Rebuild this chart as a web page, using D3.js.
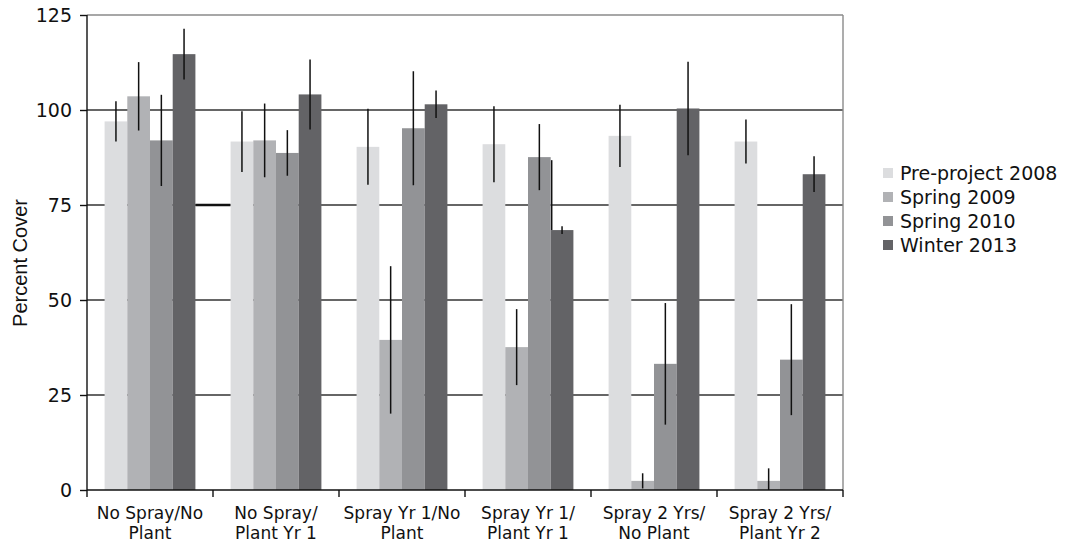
<!DOCTYPE html>
<html>
    <head>
        <meta charset="utf-8">
        <title>Percent Cover</title>
        <script src="https://cdn.jsdelivr.net/npm/d3@7"></script>
        <style>
            body { margin: 0; background: #fff; }
            text { fill: #111; }
            .tick text { font-family: "DejaVu Sans", Verdana, sans-serif; }
        </style>
    </head>
    <body>
        <div id="chart"></div>
        <script>
            var width = 1070, height = 543;
            var margin = {top: 15, right: 227, bottom: 53, left: 87};

            // treatments along the x axis
            const categories = ["No Spray/No Plant", "No Spray/Plant Yr 1", "Spray Yr 1/No Plant",
                "Spray Yr 1/Plant Yr 1", "Spray 2 Yrs/No Plant", "Spray 2 Yrs/Plant Yr 2"];
            const labelLines = [["No Spray/No", "Plant"], ["No Spray/", "Plant Yr 1"], ["Spray Yr 1/No", "Plant"],
                ["Spray Yr 1/", "Plant Yr 1"], ["Spray 2 Yrs/", "No Plant"], ["Spray 2 Yrs/", "Plant Yr 2"]];
            const series = ["Pre-project 2008", "Spring 2009", "Spring 2010", "Winter 2013"];
            const colors = ["#dcdddf", "#b1b2b5", "#929396", "#636366"];

            // mean percent cover, one array per series
            const pre2008 = [97, 91.7, 90.3, 91, 93.2, 91.7];
            const spring2009 = [103.6, 92, 39.5, 37.6, 2.4, 2.4];
            const spring2010 = [92, 88.7, 95.2, 87.6, 33.2, 34.3];
            const winter2013 = [114.7, 104.1, 101.5, 68.4, 100.4, 83.1];

            // error bar half-widths
            const pre2008Err = [5.3, 8, 10, 10, 8.2, 5.8];
            const spring2009Err = [9, 9.7, 19.4, 10, 2, 3.3];
            const spring2010Err = [12, 6, 15, 8.7, 16, 14.6];
            const winter2013Err = [6.7, 9.2, 3.6, 1, 12.3, 4.7];

            const yTicks = [0, 25, 50, 75, 100, 125];

            var means = [pre2008, spring2009, spring2010, winter2013];
            var errs = [pre2008Err, spring2009Err, spring2010Err, winter2013Err];

            var rows = [];
            series.forEach(function (s, i) {
                categories.forEach(function (c, j) {
                    rows.push({cat: c, series: s, si: i, value: means[i][j], err: errs[i][j]});
                });
            });

            var svg = d3.select("#chart")
                .append("svg")
                .attr("width", width)
                .attr("height", height);

            var x0 = d3.scaleBand()
                .domain(categories)
                .range([margin.left, width - margin.right])
                .padding(0);

            var x1 = d3.scaleBand()
                .domain(series)
                .range([0, x0.bandwidth()])
                .paddingInner(0)
                .paddingOuter(0.775);

            var y = d3.scaleLinear()
                .domain([0, 125])
                .range([height - margin.bottom, margin.top]);

            // gridlines
            svg.append("g")
                .selectAll("line")
                .data(yTicks.filter(function (d) { return d > 0; }))
                .enter()
                .append("line")
                .attr("x1", margin.left)
                .attr("x2", width - margin.right)
                .attr("y1", function (d) { return y(d); })
                .attr("y2", function (d) { return y(d); })
                .attr("stroke", function (d) { return d === 125 ? "#8a8a8a" : "#333"; })
                .attr("stroke-width", 1.4);

            // right border
            svg.append("line")
                .attr("x1", width - margin.right)
                .attr("x2", width - margin.right)
                .attr("y1", y(125))
                .attr("y2", y(0))
                .attr("stroke", "#8a8a8a")
                .attr("stroke-width", 1.4);

            // the thick stray segment on the 75 line
            svg.append("line")
                .attr("x1", x0(categories[0]) + x1(series[3]) + x1.bandwidth())
                .attr("x2", x0(categories[1]) + x1(series[0]))
                .attr("y1", y(75))
                .attr("y2", y(75))
                .attr("stroke", "#111")
                .attr("stroke-width", 2.6);

            // bars
            svg.append("g")
                .selectAll("rect")
                .data(rows)
                .enter()
                .append("rect")
                .attr("x", function (d) { return x0(d.cat) + x1(d.series); })
                .attr("y", function (d) { return y(d.value); })
                .attr("width", x1.bandwidth())
                .attr("height", function (d) { return y(0) - y(d.value); })
                .attr("fill", function (d) { return colors[d.si]; });

            // error bars
            svg.append("g")
                .selectAll("line")
                .data(rows)
                .enter()
                .append("line")
                .attr("x1", function (d) { return x0(d.cat) + x1(d.series) + x1.bandwidth() / 2; })
                .attr("x2", function (d) { return x0(d.cat) + x1(d.series) + x1.bandwidth() / 2; })
                .attr("y1", function (d) { return y(d.value + d.err); })
                .attr("y2", function (d) { return y(Math.max(0, d.value - d.err)); })
                .attr("stroke", "#111")
                .attr("stroke-width", 1.5);

            // stray line at the edge of the Winter 2013 bar, Spray Yr 1/Plant Yr 1
            svg.append("line")
                .attr("x1", x0(categories[3]) + x1(series[3]) + 1)
                .attr("x2", x0(categories[3]) + x1(series[3]) + 1)
                .attr("y1", y(86.8))
                .attr("y2", y(winter2013[3]))
                .attr("stroke", "#111")
                .attr("stroke-width", 1.5);

            // Y axis
            var yAxis = d3.axisLeft(y).tickValues(yTicks).tickSize(7).tickPadding(8);
            var gy = svg.append("g")
                .attr("transform", "translate(" + margin.left + ",0)")
                .call(yAxis);
            gy.select(".domain").remove();
            gy.selectAll(".tick line").attr("stroke", "#111").attr("stroke-width", 1.4);
            gy.selectAll(".tick text").attr("font-size", 19).attr("fill", "#111");
            gy.append("line")
                .attr("x1", 0).attr("x2", 0)
                .attr("y1", y(125)).attr("y2", y(0))
                .attr("stroke", "#111").attr("stroke-width", 1.4);

            // X axis with ticks on group boundaries
            var xAxis = svg.append("g")
                .attr("transform", "translate(0," + y(0) + ")");
            xAxis.append("line")
                .attr("x1", margin.left).attr("x2", width - margin.right)
                .attr("stroke", "#111").attr("stroke-width", 1.4);
            xAxis.selectAll(".xtick")
                .data(categories.concat([null]))
                .enter()
                .append("line")
                .attr("class", "xtick")
                .attr("x1", function (d) { return d ? x0(d) : width - margin.right; })
                .attr("x2", function (d) { return d ? x0(d) : width - margin.right; })
                .attr("y1", 0).attr("y2", 7)
                .attr("stroke", "#111").attr("stroke-width", 1.4);

            var xl = xAxis.selectAll(".xlabel")
                .data(categories)
                .enter()
                .append("text")
                .attr("class", "xlabel")
                .attr("text-anchor", "middle")
                .attr("font-family", "DejaVu Sans, Verdana, sans-serif")
                .attr("font-size", 17)
                .attr("x", function (d) { return x0(d) + x0.bandwidth() / 2; });
            xl.each(function (d, i) {
                var t = d3.select(this);
                labelLines[i].forEach(function (ln, k) {
                    t.append("tspan")
                        .attr("x", x0(d) + x0.bandwidth() / 2)
                        .attr("y", 29 + k * 20)
                        .text(ln);
                });
            });

            // Y axis title
            svg.append("text")
                .attr("transform", "translate(27," + 263 + ") rotate(-90)")
                .attr("text-anchor", "middle")
                .attr("font-family", "Liberation Sans, Arial, sans-serif")
                .attr("font-size", 20)
                .text("Percent Cover");

            // legend
            var legend = svg.append("g")
                .attr("transform", "translate(883,173)");
            var li = legend.selectAll("g")
                .data(series)
                .enter()
                .append("g")
                .attr("transform", function (d, i) { return "translate(0," + (i * 24) + ")"; });
            li.append("rect")
                .attr("x", 0).attr("y", -5)
                .attr("width", 10).attr("height", 10)
                .attr("fill", function (d, i) { return colors[i]; });
            li.append("text")
                .attr("x", 17)
                .attr("dy", "0.35em")
                .attr("font-family", "DejaVu Sans, Verdana, sans-serif")
                .attr("font-size", 19)
                .text(function (d) { return d; });
        </script>
    </body>
</html>
